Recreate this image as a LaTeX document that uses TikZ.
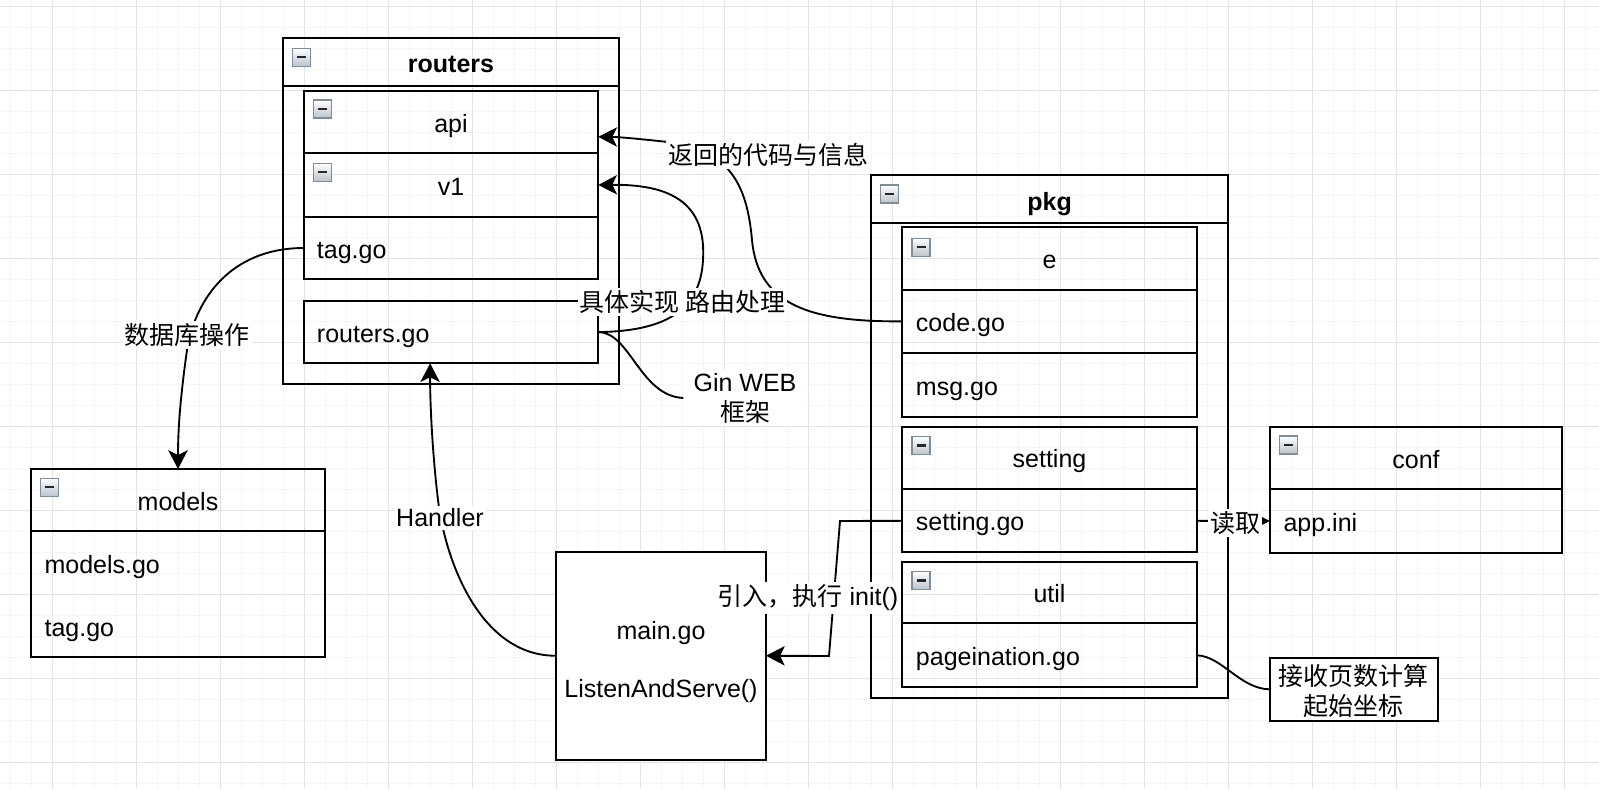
\documentclass[tikz,border=0pt]{standalone}
\usepackage{fontspec}
\setmainfont{Liberation Sans}
\newfontfamily\cjk{Noto Sans CJK SC}
\usetikzlibrary{arrows.meta}
\definecolor{gridmajor}{HTML}{E4E4E4}
\definecolor{gridminor}{HTML}{F6F6F6}
\definecolor{iconedge}{HTML}{7F8D9A}
\definecolor{iconfill}{HTML}{BAC3CC}

% rectangle node from its top-left and bottom-right corners (in px)
\newcommand\umlbox[6][]{%
  \node[boxshape,#1,minimum width={(#5-#3)*0.75pt},minimum height={(#6-#4)*0.75pt}] (#2) at (#3,#4) {};}
% small collapse button in a header
\newcommand\foldicon[2]{%
  \draw[iconedge,line width=0.9pt,top color=white,bottom color=iconfill] (#1,#2) rectangle ++(18,18);
  \draw[black!85,line width=1.6pt] (#1+4.5,#2+9) -- ++(9,0);}

\begin{document}
\begin{tikzpicture}[x=0.75pt,y=-0.75pt,
  boxshape/.style={draw=black,line width=1.5pt,inner sep=0pt,outer sep=0pt,anchor=north west},
  conn/.style={draw=black,line width=1.4pt},
  bigtip/.style={-{Stealth[length=14pt,width=14.5pt,inset=3.5pt]}},
  smalltip/.style={-{Triangle[length=6pt,width=5.5pt]}},
  lbl/.style={font=\fontsize{18.75pt}{22.5pt}\selectfont,inner sep=0pt},
  itemtxt/.style={lbl,anchor=base west},
  ctrtxt/.style={lbl,anchor=base},
  headtxt/.style={lbl,anchor=base,font=\fontsize{18.75pt}{22.5pt}\selectfont\bfseries},
  edgelbl/.style={lbl,fill=white,inner xsep=1.5pt,inner ysep=2pt,align=center}]

\useasboundingbox (0,0) rectangle (1599,789);
\fill[white] (0,0) rectangle (1599,789);

% background grid
\foreach \gx in {10,31,...,1599} \draw[gridminor,line width=0.75pt] (\gx,0) -- (\gx,789);
\foreach \gy in {6,27,...,789} \draw[gridminor,line width=0.75pt] (0,\gy) -- (1599,\gy);
\foreach \gx in {52,136,...,1599} \draw[gridmajor,line width=0.75pt] (\gx,0) -- (\gx,789);
\foreach \gy in {6,90,...,789} \draw[gridmajor,line width=0.75pt] (0,\gy) -- (1599,\gy);

% routers package
\umlbox{routersH}{282.7}{38.3}{619}{86}
\umlbox{routers}{282.7}{86}{619}{384.3}
\umlbox{api}{304}{91}{598.3}{153.3}
\umlbox{v1}{304}{153.3}{598.3}{216.7}
\umlbox{taggo}{304}{216.7}{598.3}{279.3}
\umlbox{routersgo}{304}{301}{598.3}{363.3}

% pkg package
\umlbox{pkgH}{871}{175}{1228.3}{222.7}
\umlbox{pkg}{871}{222.7}{1228.3}{698.3}
\umlbox{eH}{902.3}{227.3}{1196.7}{290}
\umlbox{codego}{902.3}{290}{1196.7}{352.7}
\umlbox{msggo}{902.3}{352.7}{1196.7}{416.7}
\umlbox{settingH}{902.3}{426.7}{1196.7}{489.3}
\umlbox{settinggo}{902.3}{489.3}{1196.7}{552.3}
\umlbox{utilH}{902.3}{561.7}{1196.7}{623.3}
\umlbox{pagego}{902.3}{623.3}{1196.7}{687.3}

% conf and models
\umlbox{confH}{1270}{426.7}{1562.3}{489.3}
\umlbox{appini}{1270}{489.3}{1562.3}{552.7}
\umlbox{modelsH}{31}{469}{325}{530.7}
\umlbox{models}{31}{530.7}{325}{657.3}

% plain boxes
\umlbox[fill=white]{main}{556}{551.7}{766}{759.8}
\umlbox[fill=white]{recv}{1270}{657.7}{1437.7}{721}

% collapse buttons
\foldicon{292.7}{48.3}
\foldicon{313.3}{100}
\foldicon{313.3}{163.3}
\foldicon{880.7}{185}
\foldicon{912}{238.3}
\foldicon{912}{436.5}
\foldicon{912}{571.5}
\foldicon{1279.3}{436}
\foldicon{40.7}{478.3}

% free-standing note
\node[edgelbl,inner xsep=7.5pt] (gin) at (745,398) {Gin WEB\\{\cjk 框架}};

% connectors
\draw[conn,bigtip] (codego.west) .. controls (810,322) and (758,305) .. (752,240)
  .. controls (747,185) and (730,150) .. (668,142)
  .. controls (640,139) and (620,137) .. ([yshift=-11pt]api.east);
\draw[conn,bigtip] (routersgo.east) .. controls (650,331) and (700,320) .. (703,260)
  .. controls (706,210) and (680,184) .. (v1.east);
\draw[conn] (routersgo.east) .. controls (630,332) and (640,396) .. (gin.west);
\draw[conn,bigtip] (taggo.west) .. controls (230,248) and (195,300) .. (187,350)
  .. controls (180,400) and (178,430) .. (modelsH.north);
\draw[conn,bigtip] (main.west) .. controls (480,656) and (445,560) .. (438,500)
  .. controls (432,450) and (430,400) .. ([xshift=-15.75pt]routersgo.south);
\draw[conn,bigtip] (settinggo.west) -- (840,521) -- (829,656) -- (main.east);
\draw[conn,smalltip] (settinggo.east) -- (appini.west);
\draw[conn] (pagego.east) .. controls (1222,656) and (1240,689) .. (recv.west);

% connector labels
\node[edgelbl] (retL) at (768,155) {\cjk 返回的代码与信息};
\node[edgelbl] (implL) at (682.5,302) {\cjk 具体实现 路由处理};
\node[edgelbl] (dbL) at (187,335) {\cjk 数据库操作};
\node[edgelbl] (handlerL) at (440,518) {Handler};
\node[edgelbl] (initL) at (808,598) {{\cjk 引入，执行} init()};
\node[edgelbl] (readL) at (1235,523) {\cjk 读取};

% box texts
\node[headtxt] (routersT) at (451,72.7) {routers};
\node[ctrtxt] (apiT) at (451,132) {api};
\node[ctrtxt] (v1T) at (451,195.5) {v1};
\node[itemtxt] (taggoT) at (316.7,258.3) {tag.go};
\node[itemtxt] (routersgoT) at (316.7,342.3) {routers.go};
\node[headtxt] (pkgT) at (1049.6,210) {pkg};
\node[ctrtxt] (eT) at (1049.5,268.3) {e};
\node[itemtxt] (codegoT) at (915.7,331.5) {code.go};
\node[itemtxt] (msggoT) at (915.7,395) {msg.go};
\node[ctrtxt] (settingT) at (1049.5,467.5) {setting};
\node[itemtxt] (settinggoT) at (915.7,530.5) {setting.go};
\node[ctrtxt] (utilT) at (1049.5,602) {util};
\node[itemtxt] (pagegoT) at (915.7,665) {pageination.go};
\node[ctrtxt] (confT) at (1416,468.3) {conf};
\node[itemtxt] (appiniT) at (1283.3,531) {app.ini};
\node[ctrtxt] (modelsT) at (178,510.7) {models};
\node[itemtxt] (modelsgoT) at (44.3,573.3) {models.go};
\node[itemtxt] (mtaggoT) at (44.3,636) {tag.go};
\node[ctrtxt] (mainT) at (661,639) {main.go};
\node[ctrtxt] (listenT) at (661,697.3) {ListenAndServe()};
\node[lbl,align=center] (recvT) at ([yshift=-1.5pt]recv.center) {\cjk 接收页数计算\\\cjk 起始坐标};

\end{tikzpicture}
\end{document}
